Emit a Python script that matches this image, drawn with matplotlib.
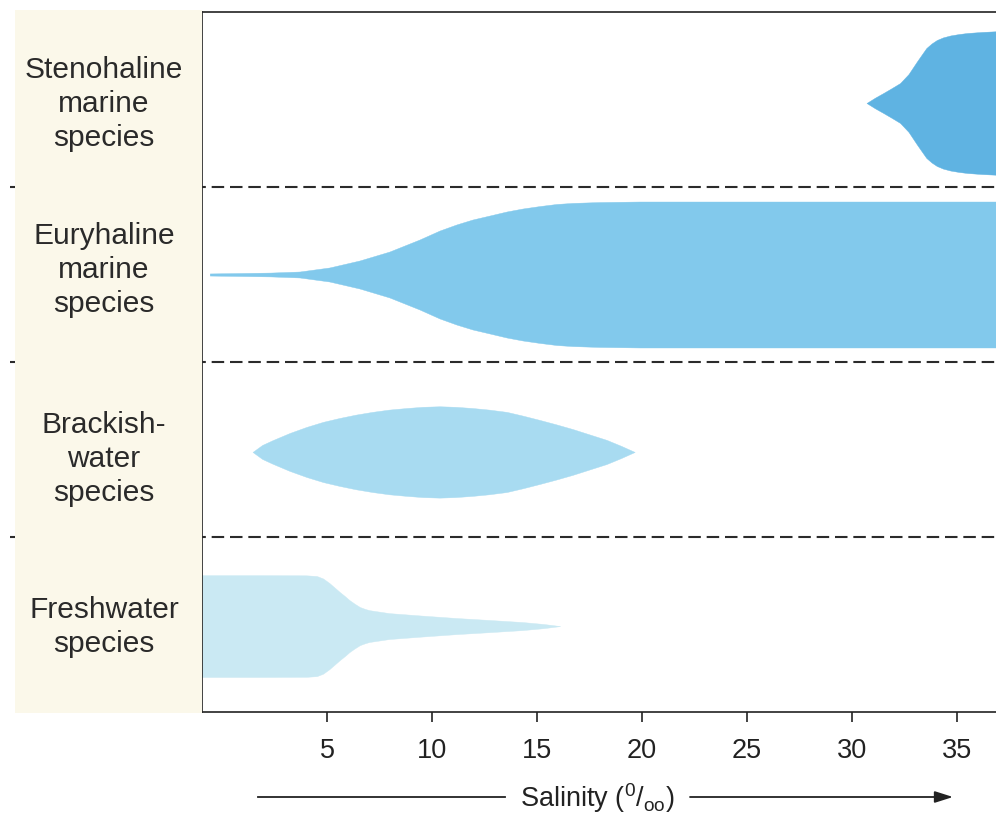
import matplotlib
matplotlib.use("Agg")
import matplotlib.pyplot as plt
import numpy as np
from matplotlib.patches import Rectangle

plt.rcParams['font.family'] = ['Liberation Sans', 'DejaVu Sans']
plt.rcParams['mathtext.fontset'] = 'custom'
plt.rcParams['mathtext.rm'] = 'Liberation Sans'
plt.rcParams['mathtext.it'] = 'Liberation Sans:italic'

# ---- data (salinity in per mille, half-widths in band units) ----
categories = ["Stenohaline\nmarine\nspecies", "Euryhaline\nmarine\nspecies",
              "Brackish-\nwater\nspecies", "Freshwater\nspecies"]
centers = [3.48, 2.50, 1.486, 0.491]

steno_sal = [30.7, 31.1, 31.5, 31.9, 32.3, 32.7, 33.1, 33.35, 33.55, 33.8, 34.05,
             34.35, 34.7, 35.1, 35.5, 36.2, 36.9]
steno_hw = [0.0, 0.03, 0.057, 0.085, 0.114, 0.165, 0.237, 0.28, 0.314, 0.34, 0.36,
            0.375, 0.386, 0.394, 0.40, 0.406, 0.41]

eury_sal = [-0.6, 2.3, 3.68, 5.1, 6.54, 7.96, 9.4, 10.35, 11.16, 11.92, 12.74, 13.55,
            14.31, 15.12, 15.93, 16.69, 17.98, 19.89, 36.9]
eury_hw = [0.006, 0.011, 0.017, 0.04, 0.08, 0.131, 0.2, 0.251, 0.286, 0.314, 0.337, 0.36,
           0.377, 0.391, 0.403, 0.409, 0.414, 0.417, 0.417]

brack_sal = [1.44, 1.9, 2.39, 3.2, 4.01, 4.8, 5.58, 6.35, 7.15, 7.95, 8.78, 9.55, 10.35,
             11.1, 11.92, 12.7, 13.55, 14.3, 15.12, 15.9, 16.69, 17.5, 18.31, 19.0, 19.65]
brack_hw = [0.0, 0.04, 0.067, 0.108, 0.143, 0.172, 0.194, 0.213, 0.229, 0.242, 0.251, 0.258,
            0.261, 0.258, 0.251, 0.242, 0.229, 0.208, 0.183, 0.158, 0.131, 0.1, 0.069, 0.035, 0.0]

fresh_sal = [-0.97, 1.8, 4.0, 4.5, 4.8, 5.1, 5.35, 5.6, 5.85, 6.05, 6.3, 6.55, 6.8, 7.0,
             7.5, 7.95, 9.5, 11.15, 12.7, 14.3, 15.3, 16.1]
fresh_hw = [0.291, 0.291, 0.29, 0.286, 0.272, 0.246, 0.22, 0.194, 0.17, 0.149, 0.128, 0.109,
            0.098, 0.091, 0.082, 0.074, 0.06, 0.046, 0.035, 0.023, 0.012, 0.0]

xticks = [5, 10, 15, 20, 25, 30, 35]
separators = [1, 2, 3]

colors = ['#5fb3e2', '#82c9ec', '#a8dbf1', '#cae9f3']

W, H = 996, 814
fig = plt.figure(figsize=(W / 100, H / 100), dpi=100)

# beige label panel
fig.patches.append(Rectangle((15 / W, 1 - 713 / H), (202 - 15) / W, (713 - 10) / H,
                             transform=fig.transFigure, facecolor='#fbf8ea',
                             edgecolor='none', zorder=0))

ax = fig.add_axes([202 / W, 1 - 712 / H, (W - 202) / W, 700 / H])
ax.set_facecolor('none')
ax.set_xlim(-0.97, 36.87)
ax.set_ylim(0, 4)

shapes = [(steno_sal, steno_hw), (eury_sal, eury_hw), (brack_sal, brack_hw), (fresh_sal, fresh_hw)]
for (s, hw), c, col in zip(shapes, centers, colors):
    s = np.array(s); hw = np.array(hw)
    ax.fill_between(s, c - hw, c + hw, facecolor=col, edgecolor=col, lw=0.3, zorder=2)

for y in separators:
    ax.axhline(y, xmin=(10 - 202) / (W - 202), xmax=1, clip_on=False,
               color='#2b2b2b', lw=1.5, dashes=(6.0, 2.8), zorder=3)

ax.spines['right'].set_visible(False)
for sp in ['top', 'left', 'bottom']:
    ax.spines[sp].set_linewidth(1.2)
    ax.spines[sp].set_color('#222222')

ax.set_yticks([])
ax.set_xticks(xticks)
ax.set_xticklabels([str(t) for t in xticks], fontsize=19.5, color='#222222')
ax.tick_params(axis='x', direction='out', length=7, width=1.2, pad=12, colors='#222222')

# category labels
label_y = [104, 270, 459, 627]
for lab, yy in zip(categories, label_y):
    fig.text(104 / W, 1 - yy / H, lab, ha='center', va='center', fontsize=21.5,
             color='#2a2a2a', linespacing=1.27)

# salinity label and arrow
fig.text(597 / W, 1 - 798 / H, r'Salinity ($^{\mathregular{0}}$/$_{\mathregular{oo}}$)',
         ha='center', va='center', fontsize=19.5, color='#222222')
fig.add_artist(plt.Line2D([258 / W, 505 / W], [1 - 797 / H, 1 - 797 / H],
                          transform=fig.transFigure, color='#222222', lw=1.3))
ax.annotate('', xy=(953 / W, 1 - 797 / H), xytext=(690 / W, 1 - 797 / H),
            xycoords='figure fraction', textcoords='figure fraction',
            arrowprops=dict(arrowstyle='-|>,head_length=1.1,head_width=0.35',
                            color='#222222', lw=1.3, shrinkA=0, shrinkB=0))

fig.savefig('out.png', dpi=100, facecolor='white')
